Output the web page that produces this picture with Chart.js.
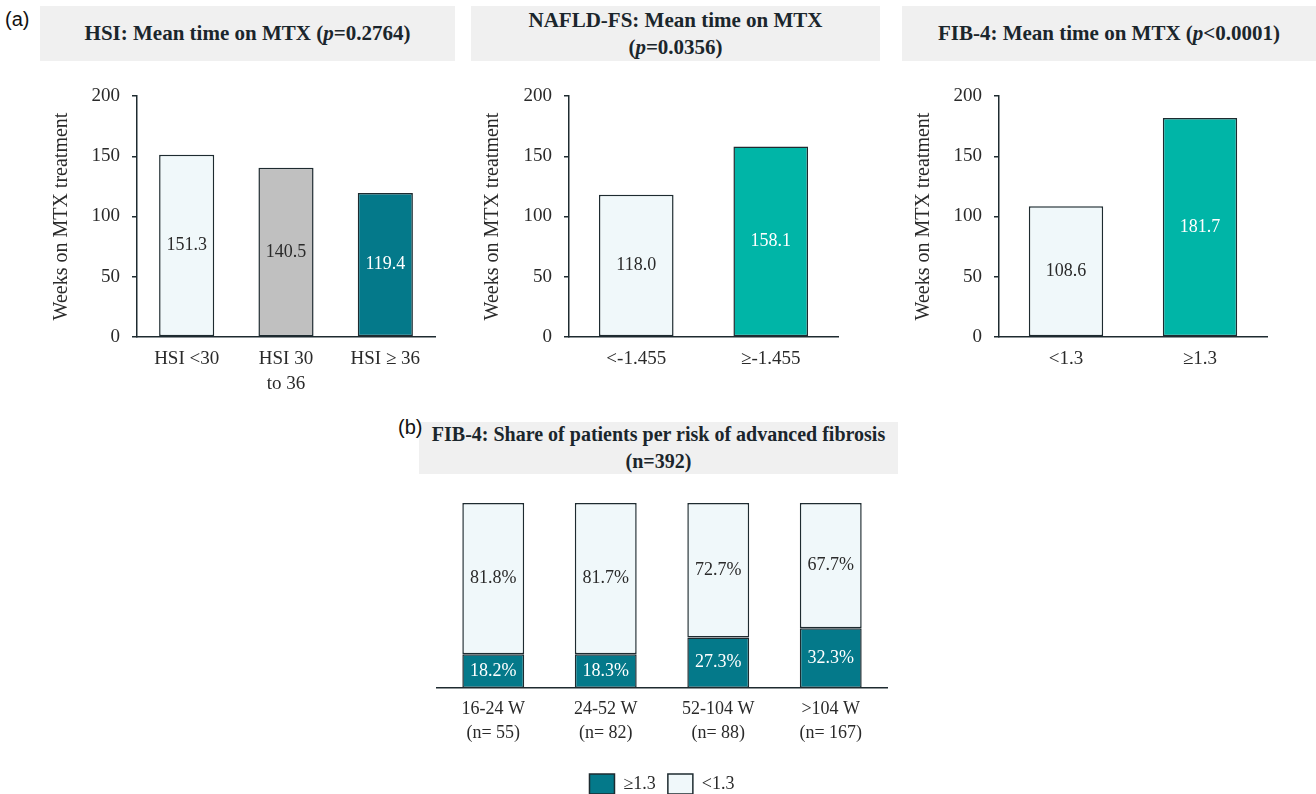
<!DOCTYPE html>
<html>
<head>
<meta charset="utf-8">
<script src="https://cdn.jsdelivr.net/npm/chart.js@4.4.0/dist/chart.umd.min.js"></script>
<style>
  body { margin: 0; background: #fff; }
  #page { position: relative; width: 1316px; height: 794px; overflow: hidden; font-family: 'Liberation Serif', serif; color: #222; }
  .tag { position: absolute; z-index: 2; font-family: 'Liberation Sans', Arial, sans-serif; font-size: 20px; color: #111; line-height: 20px; }
  .title-box { position: absolute; background: #f0f0f0; display: flex; align-items: center; justify-content: center; text-align: center;
               font-weight: bold; font-size: 21px; line-height: 27px; color: #1b262c; }
  canvas { position: absolute; }
</style>
</head>
<body>
<div id="page">
  <div class="title-box" style="left:40px; top:6px; width:415px; height:55px;"><div>HSI: Mean time on MTX (<i>p</i>=0.2764)</div></div>
  <div class="title-box" style="left:471px; top:6px; width:409px; height:55px;"><div>NAFLD-FS: Mean time on MTX<br>(<i>p</i>=0.0356)</div></div>
  <div class="title-box" style="left:902px; top:6px; width:414px; height:55px;"><div>FIB-4: Mean time on MTX (<i>p</i>&lt;0.0001)</div></div>
  <div class="title-box" style="left:419px; top:422px; width:479px; height:52px; font-size:20px;"><div>FIB-4: Share of patients per risk of advanced fibrosis<br>(n=392)</div></div>
  <div class="tag" style="left:5px; top:9px;">(a)</div>
  <div class="tag" style="left:398px; top:417px;">(b)</div>

  <canvas id="hsiChart" width="410" height="330" style="left:40px; top:80px;"></canvas>
  <canvas id="naflChart" width="400" height="330" style="left:471px; top:80px;"></canvas>
  <canvas id="fibChart" width="400" height="330" style="left:902px; top:80px;"></canvas>
  <canvas id="shareChart" width="480" height="324" style="left:419px; top:480px;"></canvas>
</div>

<script>
// panel (a) data
const hsiLabels = ['HSI <30', ['HSI 30', 'to 36'], 'HSI \u2265 36'];
const hsiWeeks = [151.3, 140.5, 119.4];

const naflLabels = ['<-1.455', '\u2265-1.455'];
const naflWeeks = [118.0, 158.1];

const fibLabels = ['<1.3', '\u22651.3'];
const fibWeeks = [108.6, 181.7];

// panel (b) data
const shareLabels = [['16-24 W', '(n= 55)'], ['24-52 W', '(n= 82)'], ['52-104 W', '(n= 88)'], ['>104 W', '(n= 167)']];
const shareHigh = [18.2, 18.3, 27.3, 32.3];
const shareLow = [81.8, 81.7, 72.7, 67.7];

const serif = 'Liberation Serif';
const ink = '#2a2a2a';
const edge = '#1e2b30';
const pale = '#f0f8fa';
const grey = '#c0c0c0';
const darkTeal = '#04798a';
const teal = '#00b5a7';

// write the value in the middle of every bar
const valueLabels = {
    id: 'valueLabels',
    afterDatasetsDraw(chart) {
        const ctx = chart.ctx;
        chart.data.datasets.forEach((ds, i) => {
            chart.getDatasetMeta(i).data.forEach((bar, j) => {
                const inkColor = Array.isArray(ds.labelInk) ? ds.labelInk[j] : ds.labelInk;
                ctx.save();
                ctx.font = '18px "' + serif + '"';
                ctx.fillStyle = inkColor;
                ctx.textAlign = 'center';
                ctx.textBaseline = 'middle';
                ctx.fillText(ds.data[j].toFixed(1) + (ds.labelSuffix || ''), bar.x, (bar.y + bar.base) / 2);
                ctx.restore();
            });
        });
    }
};

function weeksChart(id, labels, values, fills, inks, axisW, padRight) {
    new Chart(document.getElementById(id), {
        type: 'bar',
        data: {
            labels: labels,
            datasets: [{
                data: values,
                backgroundColor: fills,
                borderColor: edge,
                borderWidth: 1.5,
                borderSkipped: false,
                barPercentage: 0.555,
                categoryPercentage: 1,
                labelInk: inks
            }]
        },
        options: {
            responsive: false,
            animation: false,
            devicePixelRatio: 1,
            layout: { padding: { top: 16, right: padRight, bottom: 0, left: 0 } },
            plugins: { legend: { display: false }, tooltip: { enabled: false } },
            scales: {
                x: {
                    grid: { display: false },
                    border: { display: true, color: edge, width: 1.5 },
                    ticks: { font: { family: serif, size: 19, lineHeight: 1.3 }, color: ink, padding: 2, maxRotation: 0 },
                    afterFit: s => { s.height = 73; }
                },
                y: {
                    min: 0,
                    max: 200,
                    ticks: { stepSize: 50, font: { family: serif, size: 19 }, color: ink, padding: 12 },
                    grid: { drawOnChartArea: false, drawTicks: true, tickLength: 5, color: edge, lineWidth: 1.5 },
                    border: { color: edge, width: 1.5 },
                    title: {
                        display: true,
                        text: 'Weeks on MTX treatment',
                        font: { family: serif, size: 20 },
                        color: ink,
                        padding: { top: 10, bottom: 0 }
                    },
                    afterFit: s => {
                        s.width = axisW;
                        s.paddingTop = 0;
                        s.paddingBottom = 0;
                    }
                }
            }
        },
        plugins: [valueLabels]
    });
}

weeksChart('hsiChart', hsiLabels, hsiWeeks, [pale, grey, darkTeal], [ink, ink, '#fff'], 97, 15);
weeksChart('naflChart', naflLabels, naflWeeks, [pale, teal], [ink, '#fff'], 98, 33);
weeksChart('fibChart', fibLabels, fibWeeks, [pale, teal], [ink, '#fff'], 97, 35);

new Chart(document.getElementById('shareChart'), {
    type: 'bar',
    data: {
        labels: shareLabels,
        datasets: [{
            label: '\u22651.3',
            data: shareHigh,
            backgroundColor: darkTeal,
            borderColor: edge,
            borderWidth: 1.5,
            borderSkipped: false,
            barPercentage: 0.55,
            categoryPercentage: 1,
            labelInk: '#fff',
            labelSuffix: '%'
        }, {
            label: '<1.3',
            data: shareLow,
            backgroundColor: pale,
            borderColor: edge,
            borderWidth: 1.5,
            borderSkipped: false,
            barPercentage: 0.55,
            categoryPercentage: 1,
            labelInk: ink,
            labelSuffix: '%'
        }]
    },
    options: {
        responsive: false,
        animation: false,
        devicePixelRatio: 1,
        layout: { padding: { top: 23, right: 12, bottom: 0, left: 18 } },
        plugins: {
            legend: {
                position: 'bottom',
                labels: { boxWidth: 25, boxHeight: 20, padding: 12, color: ink, font: { family: serif, size: 18 } }
            },
            tooltip: { enabled: false }
        },
        scales: {
            x: {
                stacked: true,
                grid: { display: false },
                border: { display: true, color: edge, width: 1.5 },
                ticks: { font: { family: serif, size: 18, lineHeight: 1.3 }, color: ink, padding: 2, maxRotation: 0 },
                afterFit: s => { s.height = 74; }
            },
            y: { stacked: true, display: false, min: 0, max: 100 }
        }
    },
    plugins: [valueLabels]
});
</script>
</body>
</html>
